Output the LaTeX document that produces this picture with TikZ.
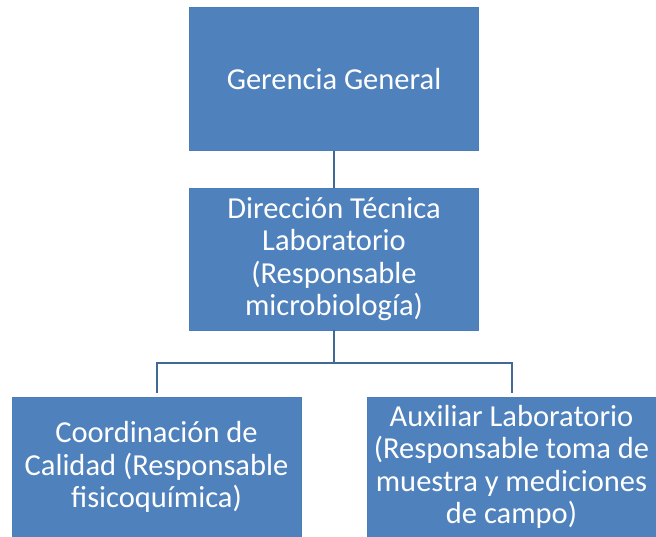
\documentclass[tikz,border=0pt]{standalone}
\usepackage{fontspec}
\setmainfont{Carlito}
\usepackage{tikz}
\usetikzlibrary{positioning, calc}
\definecolor{boxblue}{RGB}{79, 129, 189}
\definecolor{edgeblue}{RGB}{74, 126, 187}
\definecolor{lineblue}{RGB}{65, 105, 150}

\tikzset{
  orgbox/.style={rectangle, fill=boxblue, draw=edgeblue, text=white,
    minimum width=289pt, align=center,
    font=\fontsize{30.5}{32.4}\selectfont, inner sep=0pt},
  link/.style={lineblue, line width=2pt}
}

\begin{document}
\begin{tikzpicture}[x=1pt, y=-1pt]
  \useasboundingbox (0,0) rectangle (656,537);

  % Boxes
  \node[orgbox, minimum height=143pt] (gerencia) at (334,79) {Gerencia General};
  \node[orgbox, minimum height=142pt] (direccion) at (334,259)
    {Dirección Técnica\\Laboratorio\\(Responsable\\microbiología)};
  \node[orgbox, minimum height=140pt] (coordinacion) at (156.5,467)
    {Coordinación de\\Calidad (Responsable\\fisicoquímica)};
  \node[orgbox, minimum height=140pt] (auxiliar) at (511.5,467)
    {Auxiliar Laboratorio\\(Responsable toma de\\muestra y mediciones\\de campo)};

  % Connectors
  \coordinate (bar) at (334,363);
  \draw[link] (gerencia.south) -- (direccion.north);
  \draw[link] (direccion.south) -- (bar);
  \draw[link, shorten >=4pt] (bar) -| (coordinacion.north);
  \draw[link, shorten >=4pt] (bar) -| (auxiliar.north);
\end{tikzpicture}
\end{document}
